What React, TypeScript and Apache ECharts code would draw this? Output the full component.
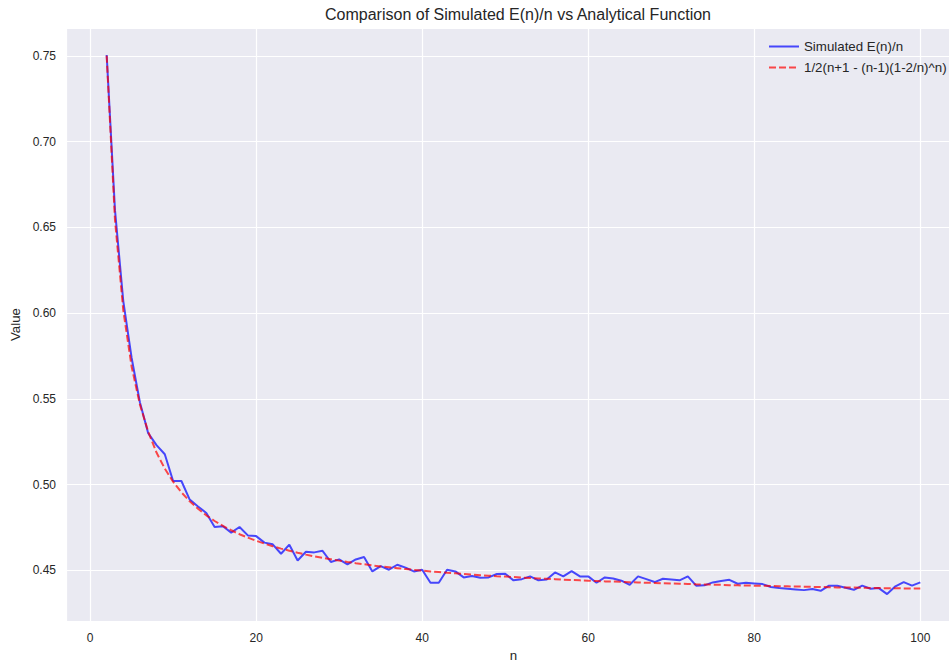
import React, { useEffect, useRef } from "react";
import * as echarts from "echarts";

const TITLE = "Comparison of Simulated E(n)/n vs Analytical Function";
const SIM_NAME = "Simulated E(n)/n";
const ANA_NAME = "1/2(n+1 - (n-1)(1-2/n)^n)";

const nValues = [
  2, 3, 4, 5, 6, 7, 8, 9, 10, 11, 12, 13, 14, 15, 16, 17, 18, 19, 20, 21,
  22, 23, 24, 25, 26, 27, 28, 29, 30, 31, 32, 33, 34, 35, 36, 37, 38, 39, 40, 41,
  42, 43, 44, 45, 46, 47, 48, 49, 50, 51, 52, 53, 54, 55, 56, 57, 58, 59, 60, 61,
  62, 63, 64, 65, 66, 67, 68, 69, 70, 71, 72, 73, 74, 75, 76, 77, 78, 79, 80, 81,
  82, 83, 84, 85, 86, 87, 88, 89, 90, 91, 92, 93, 94, 95, 96, 97, 98, 99, 100,
];

const simulated = [
  0.7505, 0.66, 0.607, 0.574, 0.548, 0.53, 0.523, 0.5177, 0.5021, 0.5021,
  0.4913, 0.4873, 0.4835, 0.4753, 0.4757, 0.472, 0.4753, 0.4704, 0.47, 0.4662,
  0.4652, 0.4597, 0.465, 0.4558, 0.4609, 0.4605, 0.4614, 0.4549, 0.4564, 0.4535,
  0.4564, 0.4578, 0.4494, 0.4525, 0.4504, 0.4533, 0.4516, 0.4494, 0.4504, 0.4428,
  0.4428, 0.4504, 0.4494, 0.4459, 0.4467, 0.4457, 0.4459, 0.4479, 0.448, 0.4442,
  0.4449, 0.4465, 0.4442, 0.4447, 0.4488, 0.4465, 0.4496, 0.4465, 0.4465, 0.4428,
  0.4459, 0.4453, 0.444, 0.4416, 0.4465, 0.4449, 0.4432, 0.4451, 0.4447, 0.4442,
  0.4465, 0.4411, 0.4413, 0.443, 0.4438, 0.4445, 0.4422, 0.4428, 0.4424, 0.442,
  0.4403, 0.4397, 0.4393, 0.4389, 0.4385, 0.4391, 0.4381, 0.4411, 0.4411, 0.4399,
  0.4387, 0.4411, 0.4393, 0.4397, 0.4362, 0.4407, 0.4432, 0.4411, 0.443,
];

const analytical = [
  0.75, 0.6543, 0.6016, 0.5689, 0.5468, 0.5308, 0.5187, 0.5093, 0.5017, 0.4955,
  0.4903, 0.4859, 0.4821, 0.4788, 0.4759, 0.4734, 0.4711, 0.4691, 0.4673, 0.4656,
  0.4641, 0.4627, 0.4615, 0.4603, 0.4592, 0.4582, 0.4573, 0.4565, 0.4557, 0.4549,
  0.4542, 0.4536, 0.4529, 0.4523, 0.4518, 0.4513, 0.4508, 0.4503, 0.4499, 0.4494,
  0.449, 0.4486, 0.4483, 0.4479, 0.4476, 0.4472, 0.4469, 0.4466, 0.4464, 0.4461,
  0.4458, 0.4456, 0.4453, 0.4451, 0.4449, 0.4446, 0.4444, 0.4442, 0.444, 0.4438,
  0.4436, 0.4435, 0.4433, 0.4431, 0.443, 0.4428, 0.4427, 0.4425, 0.4424, 0.4422,
  0.4421, 0.4419, 0.4418, 0.4417, 0.4416, 0.4414, 0.4413, 0.4412, 0.4411, 0.441,
  0.4409, 0.4408, 0.4407, 0.4406, 0.4405, 0.4404, 0.4403, 0.4402, 0.4401, 0.44,
  0.44, 0.4399, 0.4398, 0.4397, 0.4396, 0.4396, 0.4395, 0.4394, 0.4394,
];

const X_MIN = -2.9;
const X_MAX = 104.9;
const Y_MIN = 0.4205;
const Y_MAX = 0.7662;

const FONT = "'Liberation Sans', Arial, Helvetica, sans-serif";
const TEXT_COLOR = "#262626";

export default function App() {
  const ref = useRef<HTMLDivElement>(null);

  useEffect(() => {
    if (!ref.current) return;
    const chart = echarts.init(ref.current, undefined, { renderer: "svg" });
    const simData = nValues.map((n, i) => [n, simulated[i]]);
    const anaData = nValues.map((n, i) => [n, analytical[i]]);

    chart.setOption({
      animation: false,
      backgroundColor: "#ffffff",
      textStyle: { fontFamily: FONT },
      title: {
        text: TITLE,
        left: 513,
        textAlign: "center",
        top: 1,
        textStyle: {
          fontFamily: FONT,
          fontSize: 16,
          fontWeight: "normal",
          color: TEXT_COLOR,
        },
      },
      grid: {
        left: 66,
        right: -12,
        top: 28,
        bottom: 41,
        show: true,
        backgroundColor: "#EAEAF2",
        borderWidth: 0,
        containLabel: false,
        outerBoundsMode: "none",
      },
      legend: {
        orient: "vertical",
        left: 763,
        top: 35,
        itemWidth: 30,
        itemHeight: 10,
        itemGap: 8,
        itemStyle: { opacity: 0 },
        textStyle: { fontFamily: FONT, fontSize: 13.3, color: TEXT_COLOR },
        data: [SIM_NAME, ANA_NAME],
      },
      xAxis: {
        type: "value",
        min: X_MIN,
        max: X_MAX,
        splitNumber: 5,
        name: "n",
        nameLocation: "middle",
        nameGap: 26,
        nameTextStyle: { fontFamily: FONT, fontSize: 13.3, color: TEXT_COLOR },
        axisLine: { show: false },
        axisTick: { show: false },
        axisLabel: {
          showMinLabel: false,
          showMaxLabel: false,
          margin: 11,
          fontFamily: FONT,
          fontSize: 12,
          color: TEXT_COLOR,
        },
        splitLine: { show: true, lineStyle: { color: "#ffffff", width: 1.2 } },
      },
      yAxis: {
        type: "value",
        min: Y_MIN,
        max: Y_MAX,
        splitNumber: 7,
        name: "Value",
        nameLocation: "middle",
        nameGap: 42,
        nameRotate: 90,
        nameTextStyle: { fontFamily: FONT, fontSize: 13.3, color: TEXT_COLOR },
        axisLine: { show: false },
        axisTick: { show: false },
        axisLabel: {
          showMinLabel: false,
          showMaxLabel: false,
          margin: 10,
          fontFamily: FONT,
          fontSize: 12,
          color: TEXT_COLOR,
          formatter: (v: number) => v.toFixed(2),
        },
        splitLine: { show: true, lineStyle: { color: "#ffffff", width: 1.2 } },
      },
      series: [
        {
          name: SIM_NAME,
          type: "line",
          data: simData,
          showSymbol: false,
          symbol: "none",
          itemStyle: { color: "rgba(0,0,255,0.7)" },
          lineStyle: { color: "rgba(0,0,255,0.7)", width: 2 },
        },
        {
          name: ANA_NAME,
          type: "line",
          data: anaData,
          showSymbol: false,
          symbol: "none",
          itemStyle: { color: "rgba(255,0,0,0.7)" },
          lineStyle: {
            color: "rgba(255,0,0,0.7)",
            width: 2,
            type: [7, 3],
          },
        },
      ],
    });

    return () => chart.dispose();
  }, []);

  return (
    <div
      ref={ref}
      style={{ position: "fixed", left: 0, top: 0, width: 949, height: 662 }}
    />
  );
}
